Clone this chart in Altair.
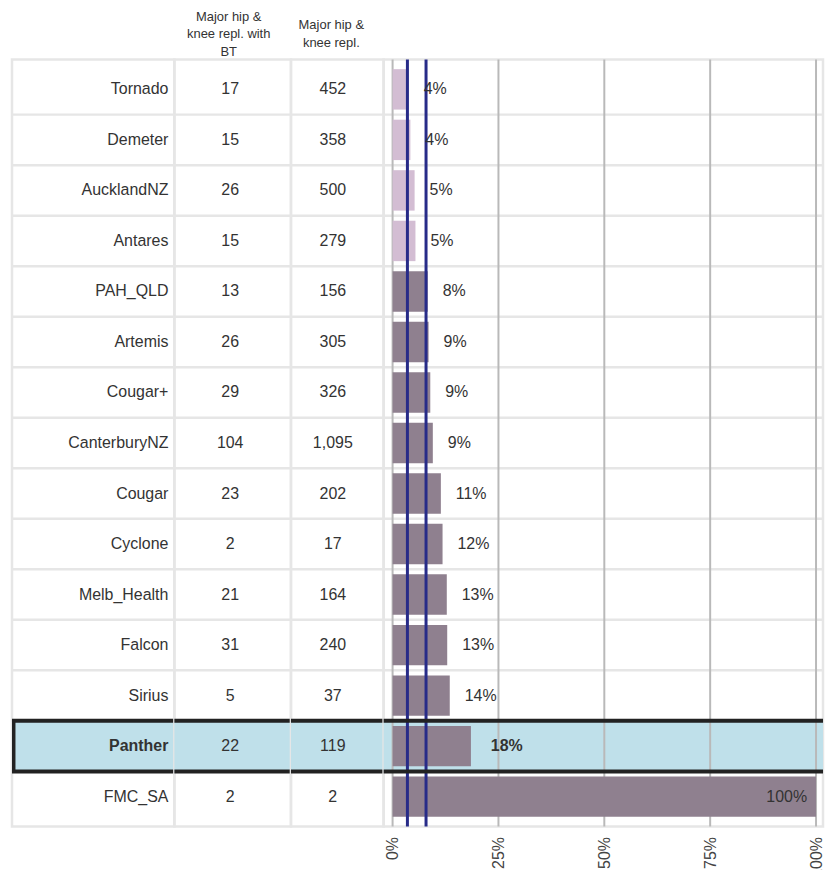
import altair as alt
import pandas as pd

# ---- data ----
names = ["Tornado", "Demeter", "AucklandNZ", "Antares", "PAH_QLD", "Artemis", "Cougar+",
         "CanterburyNZ", "Cougar", "Cyclone", "Melb_Health", "Falcon", "Sirius", "Panther", "FMC_SA"]
with_bt = [17, 15, 26, 15, 13, 26, 29, 104, 23, 2, 21, 31, 5, 22, 2]
totals = [452, 358, 500, 279, 156, 305, 326, 1095, 202, 17, 164, 240, 37, 119, 2]
rates = [3.8, 4.2, 5.2, 5.4, 8.3, 8.5, 8.9, 9.5, 11.4, 11.8, 12.8, 12.9, 13.5, 18.5, 100.0]
rate_labels = ["4%", "4%", "5%", "5%", "8%", "9%", "9%", "9%", "11%", "12%", "13%", "13%", "14%", "18%", "100%"]
bar_group = ["low", "low", "low", "low", "high", "high", "high", "high", "high", "high",
             "high", "high", "high", "high", "high"]
highlight = "Panther"
ref_lines = [3.5, 7.9]
x_ticks = [0, 25, 50, 75, 100]
header_bt = ["Major hip &", "knee repl. with", "BT"]
header_total = ["Major hip &", "knee repl."]

# ---- styling ----
FONT = "Liberation Sans"
TXT = "#333333"
AXC = "#444444"
SEP = "#e6e6e6"
GRID = "#b9b9b9"
LIGHT = "#d3bdd3"
DARK = "#8f808f"
NAVY = "#272b88"
BLUE = "#bfe0ea"
BOX = "#222222"

df = pd.DataFrame({
    "name": names,
    "bt": with_bt,
    "total": totals,
    "rate": rates,
    "label": rate_labels,
    "group": bar_group,
    "row": list(range(1, len(names) + 1)),
})
df["hl"] = df["name"] == highlight

yscale = alt.Scale(domain=names, paddingInner=0, paddingOuter=0.093)


def Y(**kw):
    return alt.Y("name:N", scale=yscale, axis=None, **kw)


base = alt.Chart(df)
H = 770


def common_layers():
    bg = base.transform_filter("datum.hl").mark_rect(color=BLUE).encode(
        y=Y(), x=alt.value(0), x2=alt.value("width"))
    seps = base.transform_filter("datum.row > 1").mark_rule(color=SEP, strokeWidth=2.5).encode(
        y=Y(bandPosition=0))
    return bg, seps


def box_layers():
    top = base.transform_filter("datum.hl").mark_rule(color=BOX, strokeWidth=4).encode(
        y=Y(bandPosition=0))
    bot = base.transform_filter("datum.hl").mark_rule(color=BOX, strokeWidth=4).encode(
        y=Y(bandPosition=1))
    return top, bot


# Panel 1: names
bg, seps = common_layers()
btop, bbot = box_layers()
names_norm = base.transform_filter("!datum.hl").mark_text(
    align="right", baseline="middle", fontSize=16, font=FONT, color=TXT).encode(
    y=Y(), x=alt.value(157), text="name:N")
names_bold = base.transform_filter("datum.hl").mark_text(
    align="right", baseline="middle", fontSize=16, font=FONT, color=TXT, fontWeight="bold").encode(
    y=Y(), x=alt.value(157), text="name:N")
left_edge = base.transform_filter("datum.hl").mark_rect(color=BOX).encode(
    y=Y(), x=alt.value(0), x2=alt.value(3.5))
p1 = alt.layer(bg, seps, btop, bbot, left_edge, names_norm, names_bold).properties(width=163, height=H)

# Panel 2: with BT
bg, seps = common_layers()
btop, bbot = box_layers()
bt_text = base.mark_text(align="center", baseline="middle", fontSize=16, font=FONT, color=TXT).encode(
    y=Y(), x=alt.value(56), text="bt:Q")
p2 = alt.layer(bg, seps, btop, bbot, bt_text).properties(
    width=117, height=H,
    title=alt.TitleParams(text=header_bt, fontSize=13, fontWeight="normal", color=TXT, font=FONT,
                          lineHeight=18, anchor="middle", offset=0, dx=-4, dy=0))

# Panel 3: totals
bg, seps = common_layers()
btop, bbot = box_layers()
tot_text = base.mark_text(align="center", baseline="middle", fontSize=16, font=FONT, color=TXT).encode(
    y=Y(), x=alt.value(42), text=alt.Text("total:Q", format=","))
p3 = alt.layer(bg, seps, btop, bbot, tot_text).properties(
    width=93, height=H,
    title=alt.TitleParams(text=header_total, fontSize=13, fontWeight="normal", color=TXT, font=FONT,
                          lineHeight=18, anchor="middle", offset=8.5, dx=-6, dy=-1))

# Panel 4: bars
xscale = alt.Scale(domain=[-2.118, 101.65], nice=False)
XA = alt.Axis(values=x_ticks, labelExpr="datum.value + '%'", labelAngle=270,
              ticks=False, domain=False, grid=False, labelPadding=10,
              labelFontSize=16, labelColor=AXC, labelFont=FONT, title=None)
bg, seps = common_layers()
btop, bbot = box_layers()
grid = alt.Chart(pd.DataFrame({"v": x_ticks})).mark_rule(color=GRID, strokeWidth=2).encode(
    x=alt.X("v:Q", scale=xscale, axis=XA))
bars = base.mark_bar(height={"band": 0.8}).encode(
    y=Y(),
    x=alt.X("rate:Q", scale=xscale, axis=XA),
    x2=alt.datum(0),
    color=alt.Color("group:N", scale=alt.Scale(domain=["low", "high"], range=[LIGHT, DARK]), legend=None))
refs = alt.Chart(pd.DataFrame({"v": ref_lines})).mark_rule(color=NAVY, strokeWidth=3).encode(
    x=alt.X("v:Q", scale=xscale, axis=XA))
lab_norm = base.transform_filter("!datum.hl && datum.rate < 100").mark_text(
    align="left", baseline="middle", dx=15, fontSize=16, font=FONT, color=TXT).encode(
    y=Y(), x=alt.X("rate:Q", scale=xscale, axis=XA), text="label:N")
lab_bold = base.transform_filter("datum.hl").mark_text(
    align="left", baseline="middle", dx=20, fontSize=16, font=FONT, color=TXT, fontWeight="bold").encode(
    y=Y(), x=alt.X("rate:Q", scale=xscale, axis=XA), text="label:N")
lab_full = base.transform_filter("!datum.hl && datum.rate >= 100").mark_text(
    align="right", baseline="middle", dx=-9, fontSize=16, font=FONT, color=TXT).encode(
    y=Y(), x=alt.X("rate:Q", scale=xscale, axis=XA), text="label:N")
p4 = alt.layer(bg, seps, grid, bars, refs, btop, bbot, lab_norm, lab_bold, lab_full).properties(
    width=441, height=H)

chart = alt.hconcat(p1, p2, p3, p4, spacing=0, bounds="flush").properties(
    padding={"left": 0, "top": -1, "right": 0, "bottom": 0}
).configure_view(stroke=SEP, strokeWidth=2.5)

chart.save("out.html", embed_options={"renderer": "svg", "actions": False})
